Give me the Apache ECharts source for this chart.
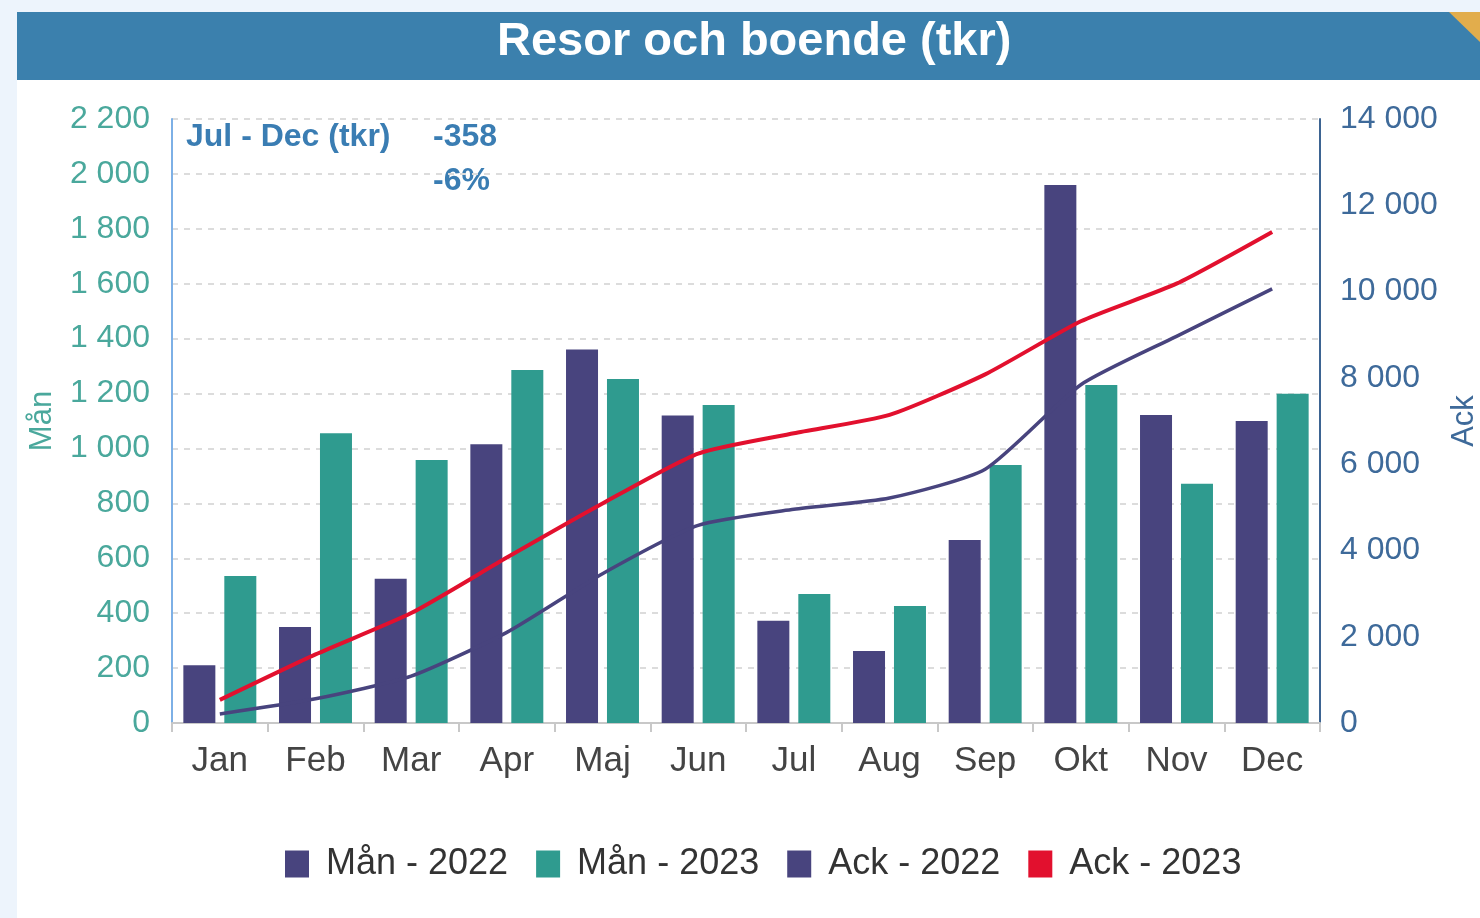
<!DOCTYPE html>
<html>
<head>
<meta charset="utf-8">
<script src="https://cdn.jsdelivr.net/npm/echarts@6/dist/echarts.min.js"></script>
<style>
  * { margin: 0; padding: 0; }
  body { background: #edf4fc; }
  #main { width: 1480px; height: 918px; }
</style>
</head>
<body>
<div id="main"></div>
<script>
  // data
  var months = ['Jan', 'Feb', 'Mar', 'Apr', 'Maj', 'Jun', 'Jul', 'Aug', 'Sep', 'Okt', 'Nov', 'Dec'];
  var man2022 = [210, 350, 525, 1015, 1360, 1120, 372, 262, 667, 1960, 1122, 1100];
  var man2023 = [535, 1055, 958, 1286, 1253, 1158, 470, 426, 940, 1231, 871, 1199];
  var ack2022 = [210, 560, 1085, 2100, 3460, 4580, 4952, 5214, 5881, 7841, 8963, 10063];
  var ack2023 = [535, 1590, 2548, 3834, 5087, 6245, 6715, 7141, 8081, 9312, 10183, 11382];
  var seriesNames = ['Mån - 2022', 'Mån - 2023', 'Ack - 2022', 'Ack - 2023'];
  var titleText = 'Resor och boende (tkr)';
  var noteLabel = 'Jul - Dec (tkr)';
  var noteDiff = '-358';
  var notePct = '-6%';

  var purple = '#48447e';
  var teal = '#2f9b8f';
  var red = '#e2102e';
  var font = 'Liberation Sans, Arial, sans-serif';

  function fmt(v) {
    return String(v).replace(/\B(?=(\d{3})+(?!\d))/g, ' ');
  }

  var chart = echarts.init(document.getElementById('main'));
  chart.setOption({
    backgroundColor: '#edf4fc',
    animation: false,
    textStyle: { fontFamily: font },
    graphic: [
      { type: 'rect', z: -10, shape: { x: 17, y: 80, width: 1463, height: 838 }, style: { fill: '#ffffff' } },
      { type: 'rect', z: -9, shape: { x: 17, y: 12, width: 1463, height: 68 }, style: { fill: '#3b80ad' } },
      { type: 'polygon', z: -8, shape: { points: [[1449, 12], [1480, 12], [1480, 42]] }, style: { fill: '#e2ad4c' } },
      {
        type: 'text', left: 497, top: 19,
        style: { text: titleText, fill: '#ffffff', font: 'bold 47px ' + font }
      },
      {
        type: 'text', left: 186, top: 121,
        style: { text: noteLabel, fill: '#3a7db3', font: 'bold 32px ' + font }
      },
      {
        type: 'text', left: 433, top: 121,
        style: { text: noteDiff, fill: '#3a7db3', font: 'bold 32px ' + font }
      },
      {
        type: 'text', left: 433, top: 165,
        style: { text: notePct, fill: '#3a7db3', font: 'bold 32px ' + font }
      }
    ],
    legend: {
      bottom: 31,
      left: 280,
      icon: 'rect',
      itemWidth: 24,
      itemHeight: 27,
      itemGap: 28,
      textStyle: { fontSize: 36, color: '#333', padding: [0, 0, 0, 12] },
      data: seriesNames
    },
    grid: { left: 172, right: 160, top: 119, bottom: 195, outerBoundsMode: 'none', containLabel: false },
    xAxis: {
      type: 'category',
      data: months,
      axisLine: { lineStyle: { color: '#c8c8c8', width: 2 } },
      axisTick: { show: true, length: 9, lineStyle: { color: '#c8c8c8', width: 2 } },
      axisLabel: { fontSize: 35, color: '#444', margin: 21 }
    },
    yAxis: [
      {
        type: 'value',
        min: 0, max: 2200, interval: 200,
        name: 'Mån',
        nameLocation: 'middle',
        nameRotate: 90,
        nameGap: 114,
        nameTextStyle: { fontSize: 31, color: '#4aa89c' },
        axisLine: { show: true, lineStyle: { color: '#7db0e6', width: 2 } },
        axisLabel: { fontSize: 32, color: '#4aa89c', margin: 22, formatter: fmt },
        splitLine: { lineStyle: { color: '#dcdcdc', type: [6, 6], width: 2 } }
      },
      {
        type: 'value',
        min: 0, max: 14000, interval: 2000,
        name: 'Ack',
        nameLocation: 'middle',
        nameRotate: 90,
        nameGap: 120,
        nameTextStyle: { fontSize: 31, color: '#3e6a9a' },
        axisLine: { show: true, lineStyle: { color: '#3d6492', width: 2 } },
        axisLabel: { fontSize: 32, color: '#3e6a9a', margin: 20, formatter: fmt },
        splitLine: { show: false }
      }
    ],
    series: [
      {
        name: seriesNames[0], type: 'bar', yAxisIndex: 0,
        barWidth: 32, barGap: '28%',
        itemStyle: { color: purple },
        data: man2022
      },
      {
        name: seriesNames[1], type: 'bar', yAxisIndex: 0,
        barWidth: 32,
        itemStyle: { color: teal },
        data: man2023
      },
      {
        name: seriesNames[2], type: 'line', yAxisIndex: 1,
        smooth: 0.2, showSymbol: false, symbol: 'none',
        lineStyle: { color: purple, width: 3.5 },
        itemStyle: { color: purple },
        data: ack2022
      },
      {
        name: seriesNames[3], type: 'line', yAxisIndex: 1,
        smooth: 0.2, showSymbol: false, symbol: 'none',
        lineStyle: { color: red, width: 4 },
        itemStyle: { color: red },
        data: ack2023
      }
    ]
  });
</script>
</body>
</html>
